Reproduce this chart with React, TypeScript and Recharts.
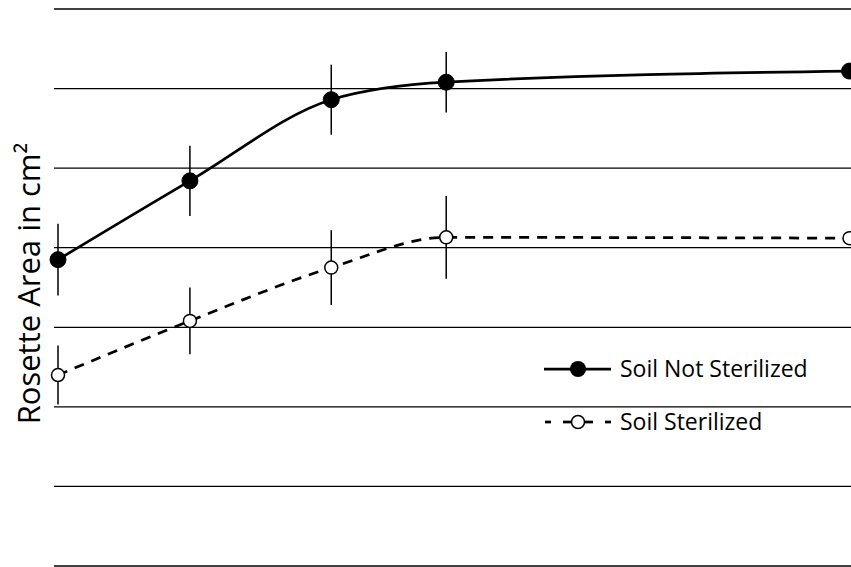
import React from 'react';
import { LineChart, Line, XAxis, YAxis, CartesianGrid, ErrorBar } from 'recharts';

// days after transfer (read from point positions)
const days = [0, 7, 14.5, 20.6, 42];
const notSterilized = [3.85, 4.84, 5.86, 6.08, 6.22];
const notSterilizedErr = [0.45, 0.44, 0.44, 0.38, null];
const sterilized = [2.4, 3.08, 3.75, 4.13, 4.12];
const sterilizedErr = [0.37, 0.42, 0.47, 0.52, null];
const yTicks = [0, 1, 2, 3, 4, 5, 6, 7];

const seriesNames = ['Soil Not Sterilized', 'Soil Sterilized'];
const yLabel = 'Rosette Area in cm²';

const data = days.map((d, i) => ({
  day: d,
  ns: notSterilized[i],
  nsErr: notSterilizedErr[i],
  st: sterilized[i],
  stErr: sterilizedErr[i],
}));

const FONT = '"Open Sans", sans-serif';

const FilledDot = (props: any) => {
  const { cx, cy, index } = props;
  if (cx == null || cy == null) return null;
  return <circle key={`ns-dot-${index}`} cx={cx} cy={cy} r={8} fill="#000" stroke="#000" strokeWidth={1} />;
};

const OpenDot = (props: any) => {
  const { cx, cy, index } = props;
  if (cx == null || cy == null) return null;
  return <circle key={`st-dot-${index}`} cx={cx} cy={cy} r={6.5} fill="#fff" stroke="#000" strokeWidth={1.5} />;
};

// ticks are not shown, but keep them so the grid gets its lines
const NoTick = () => <g />;

const YLabel = (props: any) => {
  const { x, y, width, height } = props.viewBox;
  const cx = x + width / 2 + 13;
  const cy = y + height / 2 - 4;
  return (
    <text
      transform={`translate(${cx},${cy}) rotate(-90)`}
      textAnchor="middle"
      fontFamily={FONT}
      fontSize={31}
      fill="#000"
    >
      {yLabel}
    </text>
  );
};

const LegendBox = () => (
  <svg width={320} height={100} style={{ position: 'absolute', left: 540, top: 340, overflow: 'visible' }}>
    <g>
      <line x1={4} x2={71} y1={29} y2={29} stroke="#000" strokeWidth={2.75} />
      <circle cx={38} cy={29} r={8} fill="#000" />
      <text x={80} y={37} fontFamily={FONT} fontSize={23} fill="#000">{seriesNames[0]}</text>
    </g>
    <g>
      <line x1={5} x2={11} y1={82} y2={82} stroke="#000" strokeWidth={2.75} />
      <line x1={23} x2={31} y1={82} y2={82} stroke="#000" strokeWidth={2.75} />
      <line x1={45} x2={53} y1={82} y2={82} stroke="#000" strokeWidth={2.75} />
      <line x1={65} x2={71} y1={82} y2={82} stroke="#000" strokeWidth={2.75} />
      <circle cx={38} cy={82} r={6.5} fill="#fff" stroke="#000" strokeWidth={1.5} />
      <text x={80} y={90} fontFamily={FONT} fontSize={23} fill="#000">{seriesNames[1]}</text>
    </g>
  </svg>
);

export default function App() {
  return (
    <div style={{ position: 'absolute', left: 0, top: 0, width: 851, height: 567, background: '#fff' }}>
      <LineChart width={851} height={567} data={data} margin={{ top: 9, right: 0, bottom: 1, left: 0 }}>
        <CartesianGrid vertical={false} stroke="#000" strokeWidth={1.3} />
        <XAxis type="number" dataKey="day" domain={[0, 42]} hide padding={{ left: 4, right: 1.5 }} />
        <YAxis
          width={54}
          domain={[0, 7]}
          ticks={yTicks}
          tick={<NoTick />}
          axisLine={false}
          tickLine={false}
          label={<YLabel />}
        />
        <Line
          dataKey="st"
          type="monotone"
          stroke="#000"
          strokeWidth={2.75}
          strokeDasharray="10 8"
          dot={OpenDot}
          activeDot={false}
          isAnimationActive={false}
        >
          <ErrorBar dataKey="stErr" direction="y" width={0} stroke="#000" strokeWidth={1.5} />
        </Line>
        <Line
          dataKey="ns"
          type="monotone"
          stroke="#000"
          strokeWidth={2.75}
          dot={FilledDot}
          activeDot={false}
          isAnimationActive={false}
        >
          <ErrorBar dataKey="nsErr" direction="y" width={0} stroke="#000" strokeWidth={1.5} />
        </Line>
      </LineChart>
      <LegendBox />
    </div>
  );
}
